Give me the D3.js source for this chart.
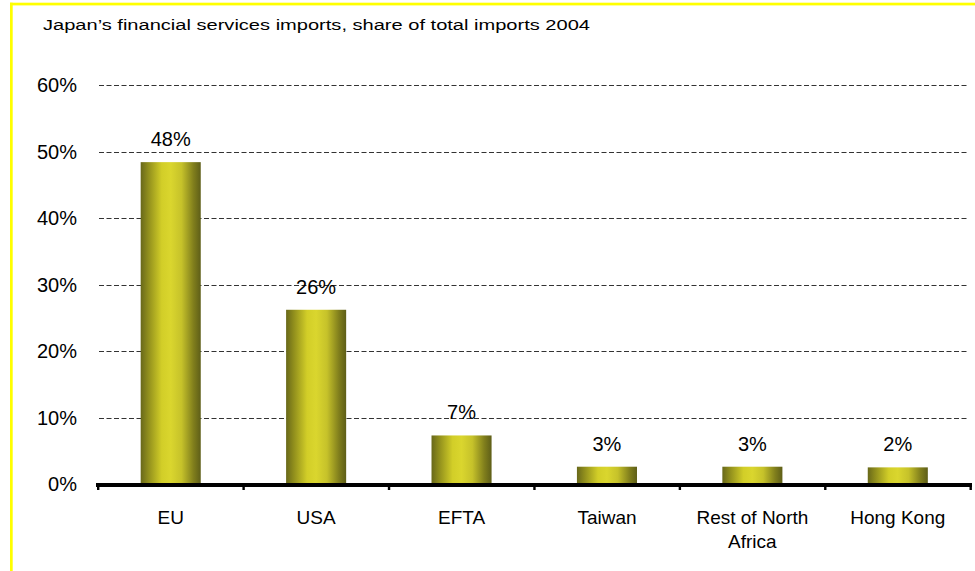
<!DOCTYPE html>
<html><head><meta charset="utf-8">
<script src="https://cdn.jsdelivr.net/npm/d3@7"></script>
<style>
html,body{margin:0;padding:0;background:#fff;}
svg{display:block;}
text{font-family:"Liberation Sans",Arial,sans-serif;fill:#000;}
</style></head>
<body>
<svg id="chart" width="975" height="571"></svg>
<script>
const categories = ["EU", "USA", "EFTA", "Taiwan", "Rest of North|Africa", "Hong Kong"];
const values = [48.4, 26.2, 7.3, 2.6, 2.6, 2.5];
const valueLabels = ["48%", "26%", "7%", "3%", "3%", "2%"];
const yTicks = [0, 10, 20, 30, 40, 50, 60];
const title = "Japan\u2019s financial services imports, share of total imports 2004";

const svg = d3.select("#chart");
const W = 975, H = 571;

// yellow frame (top + left)
svg.append("rect").attr("x", 10).attr("y", 2.7).attr("width", W - 10).attr("height", 2.7).attr("fill", "#ffff00");
svg.append("rect").attr("x", 10).attr("y", 2.7).attr("width", 2.7).attr("height", H).attr("fill", "#ffff00");

// gradient for bars
const defs = svg.append("defs");
const grad = defs.append("linearGradient").attr("id", "barGrad").attr("x1", "0%").attr("x2", "100%").attr("y1", "0%").attr("y2", "0%");
[[0, "#68681a"], [0.12, "#8e8c1c"], [0.35, "#d2ce28"], [0.5, "#dad62e"], [0.68, "#c6c22a"], [0.88, "#807e1c"], [1, "#5e5e18"]]
  .forEach(([o, c]) => grad.append("stop").attr("offset", o).attr("stop-color", c));

const x = d3.scaleBand().domain(categories).range([98, 970.5]).paddingInner(0.587).paddingOuter(0.2935);
const xSlot = d3.scaleBand().domain(categories).range([98, 970.5]).padding(0);
const y = d3.scaleLinear().domain([0, 60]).range([484, 85]);

// title
svg.append("text").attr("x", 43).attr("y", 30).attr("font-size", 15.5)
  .attr("textLength", 547).attr("lengthAdjust", "spacingAndGlyphs").text(title);

// gridlines
svg.append("g").selectAll("line").data(yTicks.filter(d => d > 0)).join("line")
  .attr("x1", 99).attr("x2", 968)
  .attr("y1", d => Math.round(y(d)) + 0.5).attr("y2", d => Math.round(y(d)) + 0.5)
  .attr("stroke", "#333").attr("stroke-width", 1.2).attr("stroke-dasharray", "5,2.5");

// y labels
svg.append("g").selectAll("text").data(yTicks).join("text")
  .attr("x", 77).attr("y", d => y(d) + 7).attr("text-anchor", "end").attr("font-size", 20)
  .text(d => d + "%");

// bars
svg.append("g").selectAll("rect").data(values).join("rect")
  .attr("x", (d, i) => x(categories[i]))
  .attr("width", x.bandwidth())
  .attr("y", d => y(d))
  .attr("height", d => y(0) - y(d))
  .attr("fill", "url(#barGrad)");

// value labels
svg.append("g").selectAll("text").data(values).join("text")
  .attr("x", (d, i) => x(categories[i]) + x.bandwidth() / 2)
  .attr("y", d => y(d) - 16)
  .attr("text-anchor", "middle").attr("font-size", 20)
  .text((d, i) => valueLabels[i]);

// x axis line
svg.append("rect").attr("x", 96).attr("y", 483).attr("width", 876).attr("height", 4).attr("fill", "#000");
const bounds = categories.map(c => xSlot(c)).concat([970.5]);
svg.append("g").selectAll("rect").data(bounds).join("rect")
  .attr("x", d => d - 1).attr("y", 485).attr("width", 2.4).attr("height", 5).attr("fill", "#000");

// category labels
const cl = svg.append("g").selectAll("text").data(categories).join("text")
  .attr("text-anchor", "middle").attr("font-size", 19)
  .attr("x", c => xSlot(c) + xSlot.bandwidth() / 2).attr("y", 524);
cl.each(function(c) {
  const parts = c.split("|");
  const t = d3.select(this);
  const cx = xSlot(c) + xSlot.bandwidth() / 2;
  parts.forEach((p, k) => t.append("tspan").attr("x", cx).attr("dy", k === 0 ? 0 : 23.5).text(p));
});
</script>
</body></html>
